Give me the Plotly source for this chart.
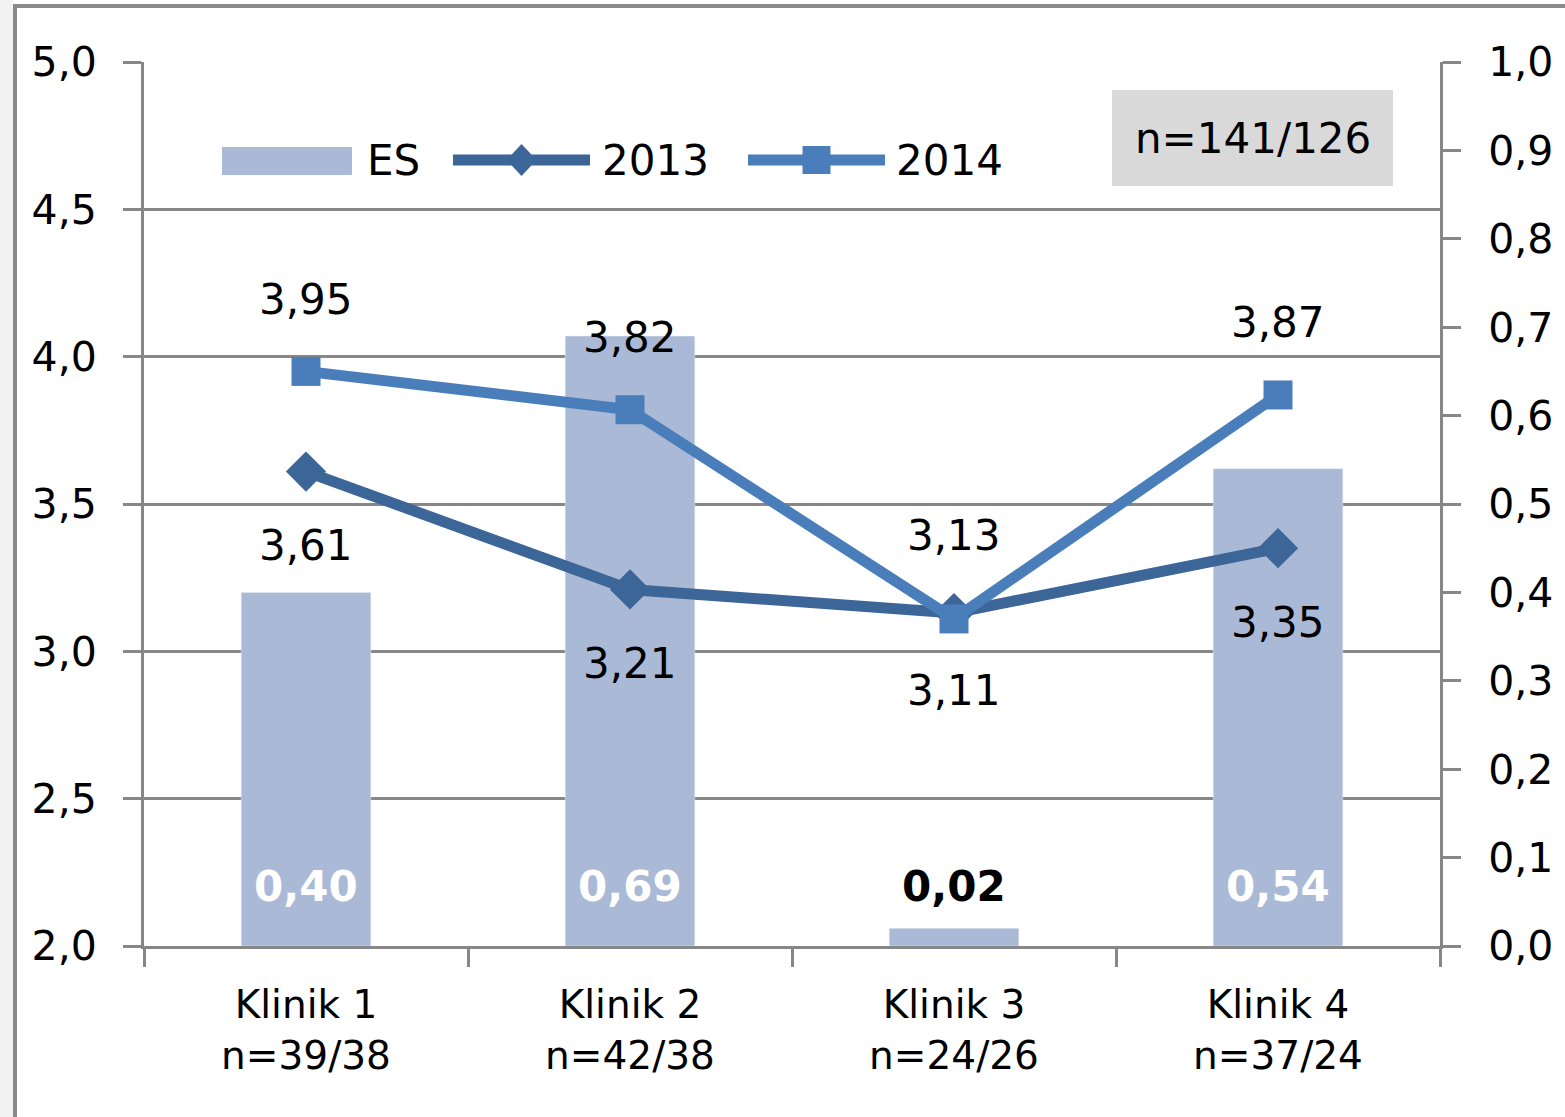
import plotly.graph_objects as go

# data
categories = ["Klinik 1<br>n=39/38", "Klinik 2<br>n=42/38",
              "Klinik 3<br>n=24/26", "Klinik 4<br>n=37/24"]
es_values = [0.40, 0.69, 0.02, 0.54]
values_2013 = [3.61, 3.21, 3.13, 3.35]
values_2014 = [3.95, 3.82, 3.11, 3.87]
# label side for every point: +1 above, -1 below
side_2013 = [-1, -1, 1, -1]
side_2014 = [1, 1, -1, 1]
total_n = "n=141/126"

FONT = "DejaVu Sans, Verdana, sans-serif"
GRID = "#878787"
BAR = "#AAB9D6"
C2013 = "#3C6598"
C2014 = "#4A7EBB"

# plot area in pixels
L, R, T, B = 144, 1440, 62, 946
W, H = 1565, 1117


def px(x):
    return (x - L) / (R - L)


def py(y):
    return (B - y) / (B - T)


def fmt(v, nd=2):
    return f"{v:.{nd}f}".replace(".", ",")


fig = go.Figure()

fig.add_trace(go.Bar(x=categories, y=es_values, name="ES", marker_color=BAR,
                     yaxis="y", showlegend=False))
fig.add_trace(go.Scatter(x=categories, y=values_2013, name="2013", yaxis="y2",
                         mode="lines+markers", line=dict(color=C2013, width=11),
                         marker=dict(symbol="diamond", size=31, color=C2013),
                         showlegend=False))
fig.add_trace(go.Scatter(x=categories, y=values_2014, name="2014", yaxis="y2",
                         mode="lines+markers", line=dict(color=C2014, width=11),
                         marker=dict(symbol="square", size=29, color=C2014),
                         showlegend=False))

annotations = []
for c, v, s in zip(categories, values_2013, side_2013):
    annotations.append(dict(x=c, y=v, xref="x", yref="y2", text=fmt(v),
                            showarrow=False, yshift=(78 if s > 0 else 74) * s,
                            font=dict(size=42, color="black", family=FONT)))
for c, v, s in zip(categories, values_2014, side_2014):
    annotations.append(dict(x=c, y=v, xref="x", yref="y2", text=fmt(v),
                            showarrow=False, yshift=72 * s,
                            font=dict(size=42, color="black", family=FONT)))
for c, v in zip(categories, es_values):
    col = "black" if v < 0.1 else "white"
    annotations.append(dict(x=c, y=0, xref="x", yref="y", text=f"<b>{fmt(v)}</b>",
                            showarrow=False, yshift=60,
                            font=dict(size=42, color=col, family=FONT)))

# legend drawn by hand so the swatches match the original size
shapes = []
shapes.append(dict(type="rect", xref="paper", yref="paper",
                   x0=px(222), x1=px(352), y0=py(175), y1=py(147),
                   fillcolor=BAR, line=dict(width=0)))
for x0, x1, col, sym in [(453, 590, C2013, "diamond"), (748, 885, C2014, "square")]:
    shapes.append(dict(type="line", xref="paper", yref="paper",
                       x0=px(x0), x1=px(x1), y0=py(160), y1=py(160),
                       line=dict(color=col, width=11)))
    cx = (x0 + x1) / 2
    if sym == "diamond":
        path = (f"M{px(cx)},{py(144)} L{px(cx + 15)},{py(160)} "
                f"L{px(cx)},{py(176)} L{px(cx - 15)},{py(160)} Z")
    else:
        path = (f"M{px(cx - 14)},{py(146)} L{px(cx + 14)},{py(146)} "
                f"L{px(cx + 14)},{py(174)} L{px(cx - 14)},{py(174)} Z")
    shapes.append(dict(type="path", xref="paper", yref="paper", path=path,
                       fillcolor=col, line=dict(width=0)))
for txt, x in [("ES", 365), ("2013", 600), ("2014", 894)]:
    annotations.append(dict(x=px(x), y=py(160), xref="paper", yref="paper",
                            text=txt, showarrow=False, xanchor="left",
                            yanchor="middle",
                            font=dict(size=42, color="black", family=FONT)))

# grey box with the total n
shapes.append(dict(type="rect", xref="paper", yref="paper",
                   x0=px(1112), x1=px(1393), y0=py(186), y1=py(90),
                   fillcolor="#D9D9D9", line=dict(width=0), layer="below"))
annotations.append(dict(x=px(1253), y=py(138), xref="paper", yref="paper",
                        text=total_n, showarrow=False, xanchor="center",
                        yanchor="middle",
                        font=dict(size=42, color="black", family=FONT)))

# outer chart frame (cut off on the right and bottom)
shapes.append(dict(type="rect", xref="paper", yref="paper",
                   x0=px(0), x1=px(13), y0=py(1130), y1=py(0),
                   fillcolor="#F2F2F2", line=dict(width=0)))
shapes.append(dict(type="rect", xref="paper", yref="paper",
                   x0=px(15), x1=px(1700), y0=py(1250), y1=py(6),
                   line=dict(color="#8A8A8A", width=4)))

axis_common = dict(ticks="outside", ticklen=18, tickwidth=3, tickcolor=GRID,
                   showline=True, linewidth=3, linecolor=GRID, zeroline=False,
                   tickfont=dict(size=41, color="black", family=FONT))

fig.update_layout(
    width=W, height=H,
    margin=dict(l=L, r=W - R, t=T, b=H - B, pad=0),
    paper_bgcolor="white", plot_bgcolor="white",
    separators=",.",
    bargap=0.6,
    showlegend=False,
    font=dict(family=FONT, color="black"),
    xaxis=dict(type="category", range=[-0.5, 3.5], tickson="boundaries",
               showgrid=False, ticks="outside", ticklen=18, tickwidth=3,
               tickcolor=GRID, showline=True, linewidth=3, linecolor=GRID,
               ticklabelstandoff=22,
               tickfont=dict(size=39, color="black", family=FONT)),
    yaxis=dict(side="right", range=[0, 1], dtick=0.1, tickformat=".1f",
               showgrid=False, ticklabelstandoff=19, **axis_common),
    yaxis2=dict(side="left", overlaying="y", range=[2, 5], dtick=0.5,
                tickformat=".1f", showgrid=True, gridcolor=GRID, gridwidth=3,
                ticklabelstandoff=18, **axis_common),
    shapes=shapes,
    annotations=annotations,
)

fig.write_html("out.html", config={"displayModeBar": False},
               post_script="document.body.style.margin='0';")
